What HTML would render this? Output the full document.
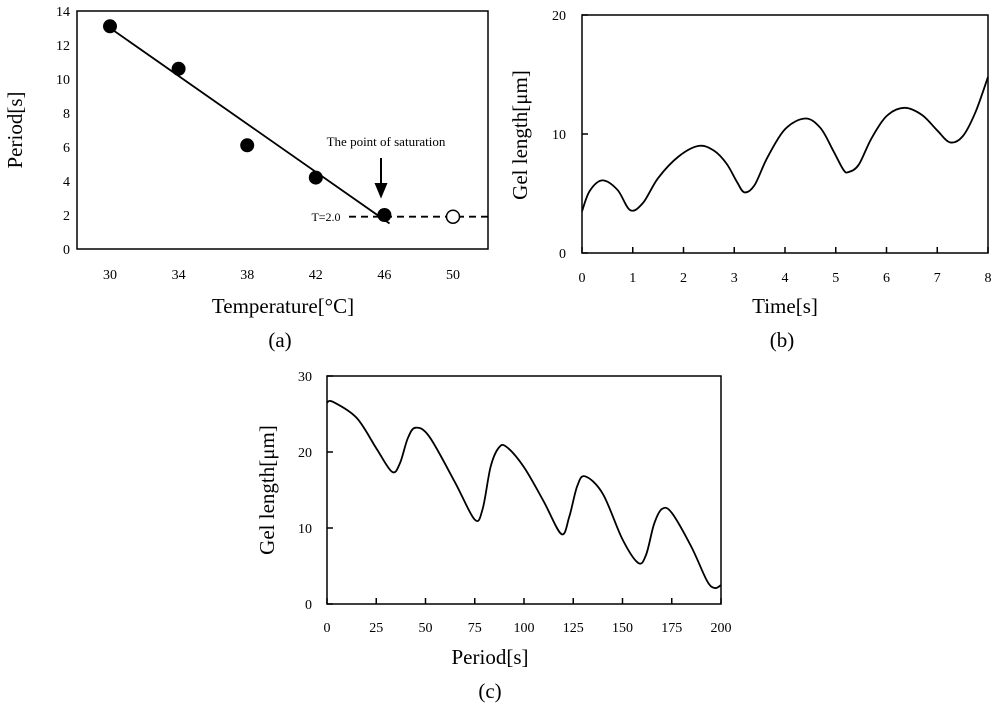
<!DOCTYPE html>
<html><head><meta charset="utf-8"><style>
body{margin:0;background:#fff;}
svg{display:block;font-family:"Liberation Serif",serif;}
</style></head><body>
<svg id="fig" width="1000" height="705" viewBox="0 0 1000 705"></svg>
<script>
// Panel (a) data
const aTemps=[30,34,38,42,46];
const aPeriods=[13.1,10.6,6.1,4.2,2.0];
const aOpenTemp=[50];
const aOpenPeriod=[1.9];
const aFitX=[30,46.3];
const aFitY=[13.0,1.5];
const aSat=[1.9];
const aXTicks=[30,34,38,42,46,50];
const aYTicks=[0,2,4,6,8,10,12,14];
// Panel (b) data
const bTime=[0,0.15,0.4,0.7,0.95,1.2,1.5,1.9,2.3,2.6,2.85,3.05,3.2,3.4,3.65,4.0,4.4,4.7,4.95,5.15,5.25,5.45,5.7,6.0,6.35,6.7,7.0,7.25,7.5,7.75,8.0];
const bLen=[3.5,5.2,6.1,5.3,3.6,4.2,6.3,8.1,9.0,8.6,7.5,6.0,5.1,5.7,8.0,10.4,11.3,10.5,8.6,7.0,6.8,7.4,9.6,11.5,12.2,11.6,10.3,9.3,9.8,11.8,14.8];
const bXTicks=[0,1,2,3,4,5,6,7,8];
const bYTicks=[0,10,20];
// Panel (c) data
const cPer=[0,3,15,25,33,37,41,45,52,65,75,79,83,87,91,100,110,119,123,127,131,140,150,158,162,166,170,175,185,193,197,200];
const cLen=[26.5,26.6,24.5,20.5,17.4,18.5,21.8,23.2,22.0,16.0,11.1,12.5,18.0,20.5,20.7,18.0,13.5,9.2,11.5,15.5,16.8,14.5,8.5,5.4,6.5,10.5,12.5,12.0,7.5,3.0,2.1,2.5];
const cXTicks=[0,25,50,75,100,125,150,175,200];
const cYTicks=[0,10,20,30];

const NS="http://www.w3.org/2000/svg";
const svg=document.getElementById('fig');
function mk(tag,attrs,parent){const e=document.createElementNS(NS,tag);for(const k in attrs)e.setAttribute(k,attrs[k]);(parent||svg).appendChild(e);return e;}
function txt(s,x,y,size,parent,anchor,rot){const t=mk('text',{x:x,y:y,'font-size':size,'text-anchor':anchor||'middle',fill:'#000'},parent);if(rot)t.setAttribute('transform','rotate(-90 '+x+' '+y+')');t.textContent=s;return t;}
function scale(d0,d1,r0,r1){return v=>r0+(v-d0)/(d1-d0)*(r1-r0);}
function smooth(pts){let d='M'+pts[0][0]+','+pts[0][1];for(let i=0;i<pts.length-1;i++){const p0=pts[i-1]||pts[i],p1=pts[i],p2=pts[i+1],p3=pts[i+2]||p2;const c1=[p1[0]+(p2[0]-p0[0])/6,p1[1]+(p2[1]-p0[1])/6],c2=[p2[0]-(p3[0]-p1[0])/6,p2[1]-(p3[1]-p1[1])/6];d+=' C'+c1[0]+','+c1[1]+' '+c2[0]+','+c2[1]+' '+p2[0]+','+p2[1];}return d;}

// ---------- Panel (a)
const ga=mk('g',{});


const ax=scale(30,50,110,453), ay=scale(0,14,249,11);
const fa=mk('rect',{x:77,y:11,width:411,height:238,fill:'none',stroke:'#000','stroke-width':1.5},ga);

aXTicks.forEach(v=>{const t=txt(v,ax(v),279,14,ga);});
aYTicks.forEach(v=>{const t=txt(v,70,ay(v)+5,14,ga,'end');});
const fit=mk('line',{x1:ax(aFitX[0]),y1:ay(aFitY[0]),x2:ax(aFitX[1]),y2:ay(aFitY[1]),stroke:'#000','stroke-width':1.8},ga);

const sat=mk('line',{x1:349,y1:ay(aSat[0]),x2:488,y2:ay(aSat[0]),stroke:'#000','stroke-width':1.8,'stroke-dasharray':'7,5'},ga);

aTemps.forEach((v,i)=>{const c=mk('circle',{cx:ax(v),cy:ay(aPeriods[i]),r:7,fill:'#000'},ga);});
aOpenTemp.forEach((v,i)=>{const c=mk('circle',{cx:ax(v),cy:ay(aOpenPeriod[i]),r:6.5,fill:'#fff',stroke:'#000','stroke-width':1.5},ga);});
let t=txt('T=2.0',326,221,12,ga);
t=txt('The point of saturation',386,146,13,ga);
const arr=mk('path',{d:'M381,158 L381,186 M376,184 L381,196 L386,184 Z',stroke:'#000','stroke-width':2,fill:'#000'},ga);

t=txt('Temperature[°C]',283,313,21,ga);
t=txt('Period[s]',22,130,21,ga,'middle',true);
t=txt('(a)',280,347,21,ga);

// ---------- Panel (b)
const gb=mk('g',{});


const bx=scale(0,8,582,988), by=scale(0,20,253,15);
const fb=mk('rect',{x:582,y:15,width:406,height:238,fill:'none',stroke:'#000','stroke-width':1.5},gb);

bXTicks.forEach(v=>{const l=mk('line',{x1:bx(v),y1:253,x2:bx(v),y2:247,stroke:'#000','stroke-width':1.5},gb);
 const tt=txt(v,bx(v),282,14,gb);});
bYTicks.forEach(v=>{const l=mk('line',{x1:582,y1:by(v),x2:588,y2:by(v),stroke:'#000','stroke-width':1.5},gb);
 const tt=txt(v,566,by(v)+5,14,gb,'end');});
const pb=mk('path',{d:smooth(bTime.map((v,i)=>[bx(v),by(bLen[i])])),fill:'none',stroke:'#000','stroke-width':1.8},gb);

t=txt('Time[s]',785,313,21,gb);
t=txt('Gel length[μm]',527,135,21,gb,'middle',true);
t=txt('(b)',782,347,21,gb);

// ---------- Panel (c)
const gc=mk('g',{});


const cx=scale(0,200,327,721), cy=scale(0,30,604,376);
const fc=mk('rect',{x:327,y:376,width:394,height:228,fill:'none',stroke:'#000','stroke-width':1.5},gc);

cXTicks.forEach(v=>{const l=mk('line',{x1:cx(v),y1:604,x2:cx(v),y2:598,stroke:'#000','stroke-width':1.5},gc);
 const tt=txt(v,cx(v),632,14,gc);});
cYTicks.forEach(v=>{const l=mk('line',{x1:327,y1:cy(v),x2:333,y2:cy(v),stroke:'#000','stroke-width':1.5},gc);
 const tt=txt(v,312,cy(v)+5,14,gc,'end');});
const pc=mk('path',{d:smooth(cPer.map((v,i)=>[cx(v),cy(cLen[i])])),fill:'none',stroke:'#000','stroke-width':1.8},gc);

t=txt('Period[s]',490,664,21,gc);
t=txt('Gel length[μm]',274,490,21,gc,'middle',true);
t=txt('(c)',490,698,21,gc);
</script>
</body></html>
